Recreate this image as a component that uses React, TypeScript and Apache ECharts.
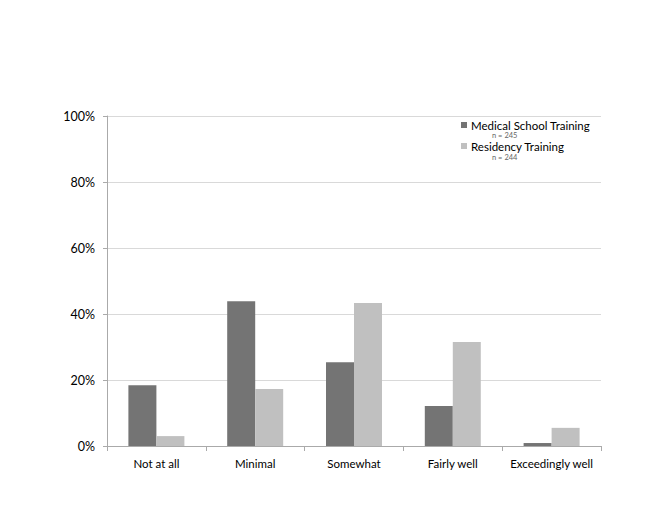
import React, { useEffect, useRef } from "react";
import * as echarts from "echarts";

const categories = ["Not at all", "Minimal", "Somewhat", "Fairly well", "Exceedingly well"];
const medicalSchool = [18.4, 43.9, 25.4, 12.1, 0.9];
const residency = [3.0, 17.3, 43.3, 31.5, 5.5];
const seriesNames = ["Medical School Training", "Residency Training"];
const sampleSizes = ["n = 245", "n = 244"];
const yTicks = [0, 20, 40, 60, 80, 100];

export default function App() {
  const ref = useRef<HTMLDivElement>(null);
  useEffect(() => {
    if (!ref.current) return;
    const chart = echarts.init(ref.current, undefined, { renderer: "svg" });
    const font = "Lato, 'Open Sans', sans-serif";
    chart.setOption({
      animation: false,
      backgroundColor: "#ffffff",
      textStyle: { fontFamily: font },
      grid: { left: 107, right: 59, top: 116, bottom: 64, containLabel: false },
      legend: {
        orient: "vertical",
        left: 461,
        top: 119,
        itemWidth: 6,
        itemHeight: 6,
        itemGap: 9,
        icon: "rect",
        padding: 0,
        data: seriesNames,
        textStyle: { fontFamily: font, fontSize: 11.5, color: "#000", lineHeight: 12, padding: [0, 0, 0, -1] },
      },
      graphic: sampleSizes.map((s, i) => ({
        type: "text",
        left: 492,
        top: 131 + i * 22,
        style: { text: s, fontSize: 7.5, fill: "#666666", fontFamily: font },
        silent: true,
      })),
      xAxis: {
        type: "category",
        data: categories,
        axisLine: { lineStyle: { color: "#aaaaaa" } },
        axisTick: { show: true, length: 5, lineStyle: { color: "#aaaaaa" } },
        axisLabel: { color: "#000", fontSize: 11.5, margin: 11, interval: 0, fontFamily: font },
      },
      yAxis: {
        type: "value",
        min: 0,
        max: 100,
        interval: 20,
        axisLine: { show: true, lineStyle: { color: "#aaaaaa" } },
        axisTick: { show: true, length: 4, lineStyle: { color: "#aaaaaa" } },
        splitLine: { lineStyle: { color: "#d9d9d9" } },
        axisLabel: {
          color: "#000",
          fontSize: 12.5,
          margin: 12,
          fontFamily: font,
          formatter: (v: number) => (yTicks.includes(v) ? `${v}%` : ""),
        },
      },
      series: [
        {
          name: seriesNames[0],
          type: "bar",
          data: medicalSchool,
          barWidth: 28,
          barGap: "0%",
          itemStyle: { color: "#747474" },
        },
        {
          name: seriesNames[1],
          type: "bar",
          data: residency,
          barWidth: 28,
          barGap: "0%",
          itemStyle: { color: "#c0c0c0" },
        },
      ],
    });
    return () => chart.dispose();
  }, []);
  return <div ref={ref} style={{ width: 660, height: 510, margin: -8 }} />;
}
